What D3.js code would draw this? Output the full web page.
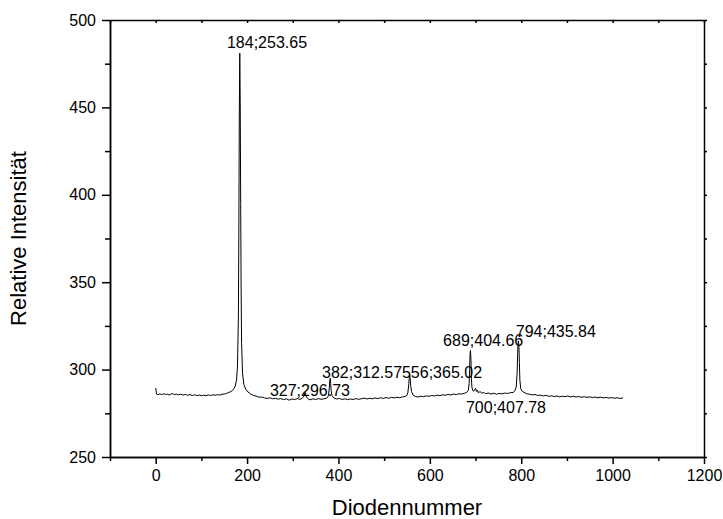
<!DOCTYPE html>
<html>

<head>
    <meta charset='utf-8'>
</head>
<style>
    body {
        margin: 0;
        background: #fff;
    }

    text {
        font-family: Arial, "Liberation Sans", sans-serif;
        fill: #000;
    }

    .spectrum {
        fill: none;
        stroke: #000;
        stroke-width: 1px;
    }
</style>

<body>
    <div id='chart'></div>
    <script src="https://d3js.org/d3.v7.min.js"></script>
    <script>
        // diode number / relative intensity
        var diode = [0, 2, 5, 9, 13, 17, 21, 25, 29, 33, 37, 41, 45, 50, 55, 60, 65, 70, 75, 80, 85, 90, 95, 100,
            105, 110, 115, 120, 125, 130, 135, 140, 145, 150, 155, 160, 165, 170, 174, 177, 179, 181, 182, 183,
            184, 185, 186, 187, 188, 190, 193, 197, 202, 208, 214, 220, 226, 232, 238, 244, 250, 256, 262, 268,
            274, 280, 286, 292, 298, 304, 310, 316, 320, 324, 327, 330, 334, 338, 344, 350, 356, 362, 368, 374,
            378, 380, 381, 382, 383, 384, 386, 390, 396, 402, 408, 414, 420, 426, 432, 438, 444, 450, 456, 462,
            468, 474, 480, 486, 492, 498, 504, 510, 516, 522, 528, 534, 540, 546, 550, 552, 554, 555, 556, 557,
            558, 560, 563, 568, 574, 580, 586, 592, 598, 604, 610, 616, 622, 628, 634, 640, 646, 652, 658, 664,
            670, 676, 680, 684, 686, 687, 688, 689, 690, 691, 692, 694, 696, 698, 700, 702, 704, 706, 710, 714,
            718, 722, 728, 734, 740, 746, 752, 758, 764, 770, 776, 782, 786, 789, 791, 792, 793, 794, 795, 796,
            797, 799, 802, 806, 812, 818, 824, 830, 836, 842, 848, 854, 860, 866, 872, 878, 884, 890, 896, 902,
            908, 914, 920, 926, 932, 938, 944, 950, 956, 962, 968, 974, 980, 986, 992, 998, 1004, 1010, 1016, 1023];

        var intensity = [289.5, 286.0, 285.6, 286.1, 285.7, 286.2, 285.8, 286.0, 285.5, 285.9, 286.3, 285.7, 286.0, 285.6, 285.9, 285.4, 285.8, 285.3, 285.7, 285.2, 285.6, 285.1, 285.5, 285.0,
            285.4, 285.1, 285.5, 285.2, 285.6, 285.3, 285.7, 285.4, 285.9, 286.0, 286.4, 286.9, 287.5, 288.6, 290.5, 294, 302, 330, 380, 445,
            481, 452, 395, 345, 315, 298, 291.5, 288.8, 287.2, 286.0, 285.2, 284.8, 284.2, 284.3, 283.8, 283.5, 283.9, 283.3, 283.6, 283.1,
            283.4, 282.8, 283.3, 282.5, 283.2, 282.9, 283.4, 283.0, 283.5, 284.5, 287.0, 284.3, 283.2, 282.7, 283.3, 282.9, 283.4, 283.0, 283.3, 283.6,
            285.0, 289.5, 293.5, 295.0, 292.0, 288.0, 285.0, 283.8, 283.2, 283.5, 282.9, 283.3, 282.8, 283.2, 282.9, 283.4, 283.0, 283.3, 283.7, 283.2,
            283.6, 283.3, 283.8, 283.4, 283.9, 283.5, 284.0, 283.6, 284.1, 283.8, 284.2, 283.9, 284.4, 284.6, 285.3, 287.0, 292.0, 295.5, 297.0, 295.0,
            291.0, 287.5, 285.5, 284.7, 284.3, 284.8, 284.5, 285.0, 284.7, 285.2, 284.9, 285.4, 285.1, 285.6, 285.3, 285.8, 285.5, 286.0, 285.7, 286.2,
            286.0, 286.5, 286.8, 288.0, 292.0, 300.0, 309.0, 311.0, 305.0, 295.0, 290.0, 288.0, 287.6, 288.5, 289.3, 287.5, 288.3, 286.8, 287.4, 286.5,
            286.9, 286.2, 286.6, 286.0, 286.5, 285.9, 286.4, 286.1, 286.6, 286.3, 286.8, 286.9, 287.8, 290.0, 298.0, 308.0, 315.0, 316.5, 313.0, 304.0,
            294.0, 289.0, 287.6, 287.0, 286.2, 285.9, 285.5, 285.8, 285.2, 285.4, 284.9, 285.3, 284.7, 285.0, 284.6, 284.9, 284.4, 284.8, 284.5, 284.9,
            284.4, 284.7, 284.3, 284.6, 284.2, 284.5, 284.1, 284.4, 284.0, 284.3, 283.9, 284.2, 283.8, 284.1, 283.7, 284.0, 283.6, 283.9, 283.5, 283.8];

        // peak labels: text and where the label starts (data units)
        var peakLabels = ["184;253.65", "327;296.73", "382;312.57", "556;365.02", "689;404.66", "794;435.84", "700;407.78"];
        var labelX = [156, 250, 364, 539, 629, 788, 679];
        var labelY = [484, 284.9, 295.2, 295.2, 313.7, 318.5, 275];

        var xTicks = [0, 200, 400, 600, 800, 1000, 1200];
        var xMinor = [-100, 100, 300, 500, 700, 900, 1100];
        var yTicks = [250, 300, 350, 400, 450, 500];
        var yMinor = [275, 325, 375, 425, 475];

        var width = 723;
        var height = 519;
        var margin = { top: 20, right: 19, bottom: 62, left: 110 };

        var svg = d3.select('#chart')
            .append('svg')
            .attr('width', width)
            .attr('height', height);

        var x = d3.scaleLinear().domain([-100, 1200]).range([margin.left, width - margin.right]);
        var y = d3.scaleLinear().domain([250, 500]).range([height - margin.bottom, margin.top]);

        var data = diode.map(function(d, i) {
            return { x: d, y: intensity[i] };
        });

        var line = d3.line()
            .x(function(d) { return x(d.x); })
            .y(function(d) { return y(d.y); });

        svg.append('path')
            .datum(data)
            .attr('class', 'spectrum')
            .attr('d', line);

        // axes
        function style(g) {
            g.selectAll('.domain').attr('stroke-width', 1.5);
            g.selectAll('.tick line').attr('stroke-width', 1.5);
            g.selectAll('text').style('font-size', '16px').style('font-family', 'Arial, "Liberation Sans", sans-serif');
        }

        svg.append('g')
            .attr('transform', 'translate(0,' + y(250) + ')')
            .call(d3.axisBottom(x).tickValues(xTicks).tickFormat(d3.format('d')).tickSize(7).tickPadding(6).tickSizeOuter(0))
            .call(style);
        svg.append('g')
            .attr('transform', 'translate(0,' + y(250) + ')')
            .call(d3.axisBottom(x).tickValues(xMinor).tickSize(4).tickFormat('').tickSizeOuter(0))
            .call(style);

        svg.append('g')
            .attr('transform', 'translate(' + x(-100) + ',0)')
            .call(d3.axisLeft(y).tickValues(yTicks).tickFormat(d3.format('d')).tickSize(8).tickPadding(6).tickSizeOuter(0))
            .call(style);
        svg.append('g')
            .attr('transform', 'translate(' + x(-100) + ',0)')
            .call(d3.axisLeft(y).tickValues(yMinor).tickSize(5).tickFormat('').tickSizeOuter(0))
            .call(style);

        svg.append('g')
            .attr('transform', 'translate(0,' + y(500) + ')')
            .call(d3.axisBottom(x).tickValues(xTicks.concat(xMinor)).tickSize(3).tickFormat('').tickSizeOuter(0))
            .call(style);

        svg.append('g')
            .attr('transform', 'translate(' + x(1200) + ',0)')
            .call(d3.axisRight(y).tickValues(yTicks.concat(yMinor)).tickSize(3).tickFormat('').tickSizeOuter(0))
            .call(style);

        // peak labels
        svg.selectAll('.peak')
            .data(peakLabels)
            .enter().append('text')
            .attr('class', 'peak')
            .attr('x', function(d, i) { return x(labelX[i]); })
            .attr('y', function(d, i) { return y(labelY[i]); })
            .style('font-size', '16px')
            .text(function(d) { return d; });

        // axis titles
        svg.append('text')
            .attr('x', (x(-100) + x(1200)) / 2)
            .attr('y', 515)
            .attr('text-anchor', 'middle')
            .style('font-size', '22px')
            .text('Diodennummer');

        svg.append('text')
            .attr('transform', 'translate(26,' + (y(250) + y(500)) / 2 + ') rotate(-90)')
            .attr('text-anchor', 'middle')
            .style('font-size', '22px')
            .text('Relative Intensität');
    </script>
</body>

</html>
